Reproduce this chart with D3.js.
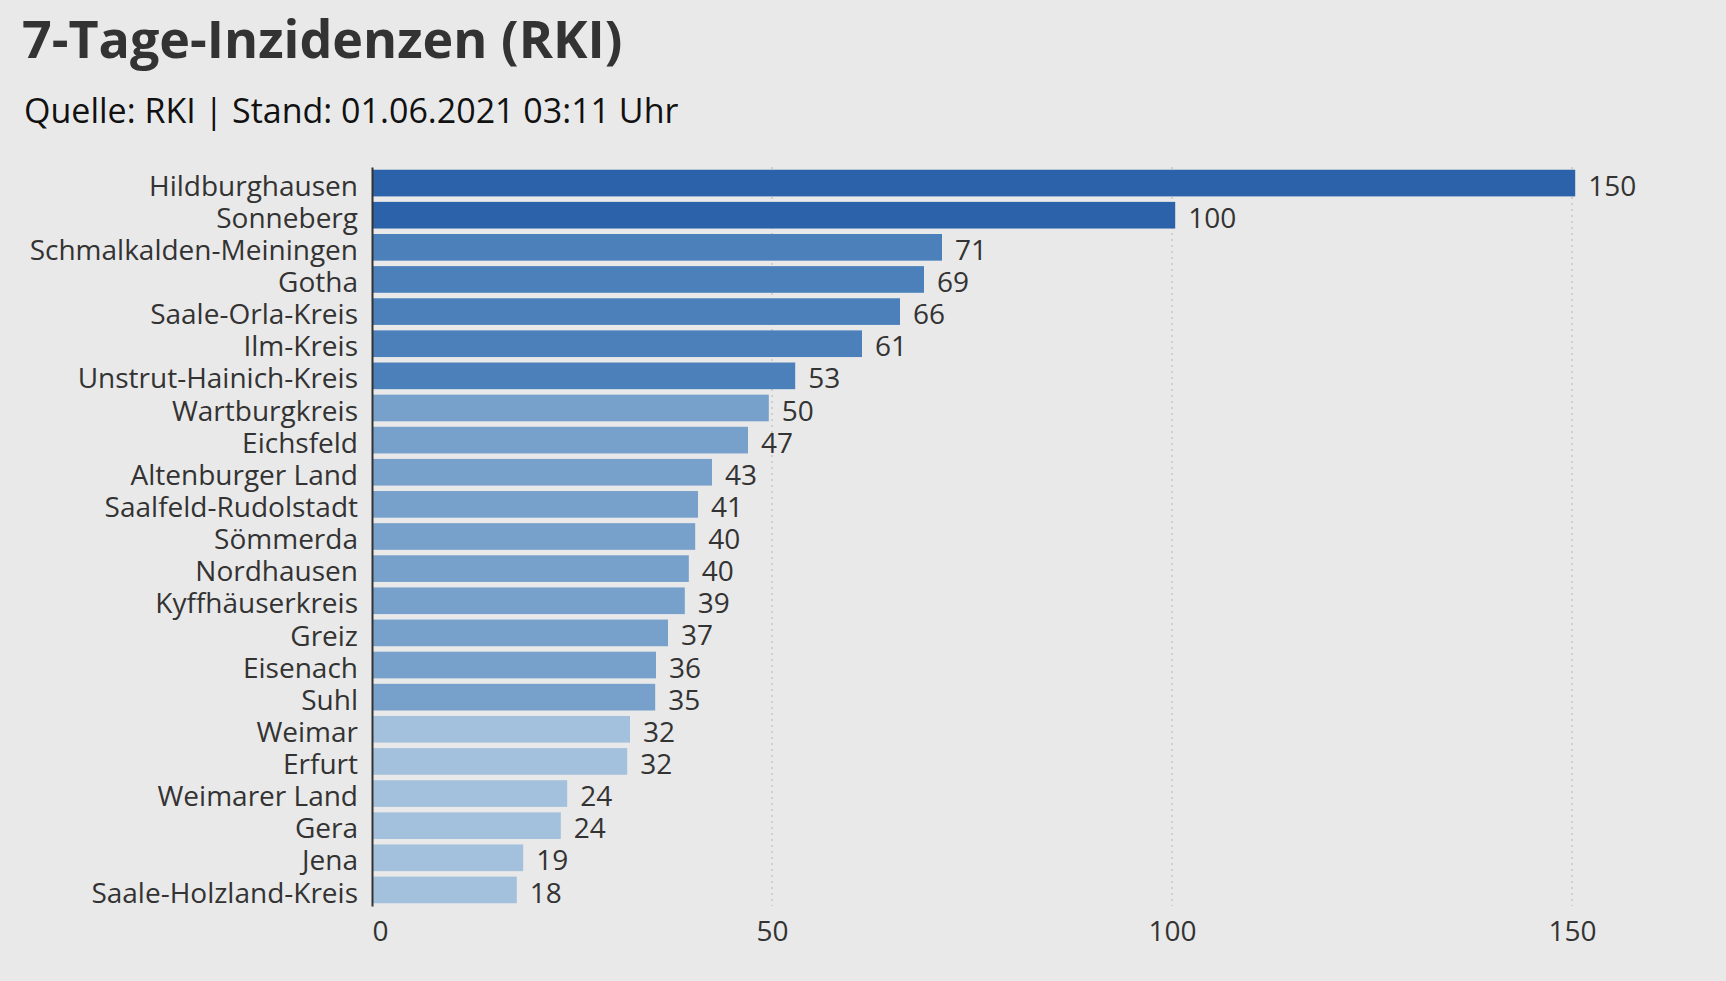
<!DOCTYPE html>
<html lang="de">
<head>
    <meta charset="UTF-8">
    <script src="https://cdn.jsdelivr.net/npm/d3@7"></script>
    <title>7-Tage-Inzidenzen (RKI)</title>
    <style>
        html, body {
            margin: 0;
            padding: 0;
            background: #e9e9e9;
        }
        svg {
            display: block;
            font-family: 'Open Sans', sans-serif;
        }
        .title {
            font-size: 52px;
            font-weight: 700;
            fill: #333;
        }
        .subtitle {
            font-size: 34px;
            fill: #111;
        }
        .axis {
            font-family: 'Open Sans', sans-serif;
        }
        .axis text, .value {
            font-size: 28px;
            fill: #333;
        }
        .grid line {
            stroke: #c6c6c6;
            stroke-width: 1.5px;
            stroke-dasharray: 2, 4;
        }
    </style>
</head>
<body>
<div id="chart"></div>

<script>
    const districts = [
        "Hildburghausen", "Sonneberg", "Schmalkalden-Meiningen", "Gotha",
        "Saale-Orla-Kreis", "Ilm-Kreis", "Unstrut-Hainich-Kreis", "Wartburgkreis",
        "Eichsfeld", "Altenburger Land", "Saalfeld-Rudolstadt", "Sömmerda",
        "Nordhausen", "Kyffhäuserkreis", "Greiz", "Eisenach", "Suhl", "Weimar",
        "Erfurt", "Weimarer Land", "Gera", "Jena", "Saale-Holzland-Kreis"
    ];
    // incidence per 100k
    const incidence = [
        150.4, 100.4, 71.25, 69.0, 66.0, 61.25, 52.9, 49.6, 47.0, 42.5, 40.75,
        40.4, 39.6, 39.1, 37.0, 35.5, 35.4, 32.25, 31.9, 24.4, 23.6, 18.9, 18.1
    ];
    const xTicks = [0, 50, 100, 150];
    const colorSteps = [35, 50, 100];
    const colorShades = ["#a3c0dc", "#77a0cb", "#4b80ba", "#2c62a9"];

    const width = 1726;
    const height = 981;

    const data = districts.map((name, i) => ({ name: name, value: incidence[i] }));

    const svg = d3.select("#chart").append("svg")
        .attr("width", width)
        .attr("height", height);

    svg.append("text")
        .attr("class", "title")
        .attr("x", 22)
        .attr("y", 58)
        .text("7-Tage-Inzidenzen (RKI)");

    svg.append("text")
        .attr("class", "subtitle")
        .attr("x", 24)
        .attr("y", 123)
        .text("Quelle: RKI | Stand: 01.06.2021 03:11 Uhr");

    const x = d3.scaleLinear()
        .domain([0, 150])
        .range([372, 1572]);

    const y = d3.scaleBand()
        .domain(districts)
        .range([167, 906])
        .paddingInner(0.17)
        .paddingOuter(0.085);

    const color = d3.scaleThreshold()
        .domain(colorSteps)
        .range(colorShades);

    // dotted grid lines behind the bars
    svg.append("g")
        .attr("class", "grid")
        .selectAll("line")
        .data(xTicks.slice(1))
        .enter()
        .append("line")
        .attr("x1", d => x(d))
        .attr("x2", d => x(d))
        .attr("y1", y.range()[0])
        .attr("y2", y.range()[1]);

    svg.append("g")
        .selectAll("rect")
        .data(data)
        .enter()
        .append("rect")
        .attr("x", x(0))
        .attr("y", d => y(d.name))
        .attr("width", d => x(d.value) - x(0))
        .attr("height", y.bandwidth())
        .attr("fill", d => color(d.value));

    svg.append("g")
        .selectAll("text")
        .data(data)
        .enter()
        .append("text")
        .attr("class", "value")
        .attr("x", d => x(d.value) + 13)
        .attr("y", d => y(d.name) + y.bandwidth() / 2)
        .attr("dy", "0.45em")
        .text(d => d3.format(".0f")(d.value));

    // x axis: labels only
    const xAxis = svg.append("g")
        .attr("class", "axis")
        .attr("transform", `translate(0,${y.range()[1]})`)
        .call(d3.axisBottom(x).tickValues(xTicks).tickSize(0).tickPadding(15))
        .attr("font-family", null)
        .attr("font-size", null);
    xAxis.select(".domain").remove();
    xAxis.selectAll("text")
        .attr("text-anchor", d => d === 0 ? "start" : "middle");

    // y axis with category names and the solid base line
    const yAxis = svg.append("g")
        .attr("class", "axis")
        .attr("transform", `translate(${x(0)},0)`)
        .call(d3.axisLeft(y).tickSize(0).tickSizeOuter(0).tickPadding(14))
        .attr("font-family", null)
        .attr("font-size", null);
    yAxis.select(".domain")
        .attr("stroke", "#333")
        .attr("stroke-width", 2);
    yAxis.selectAll("text")
        .attr("dy", "0.45em");
</script>
</body>
</html>
